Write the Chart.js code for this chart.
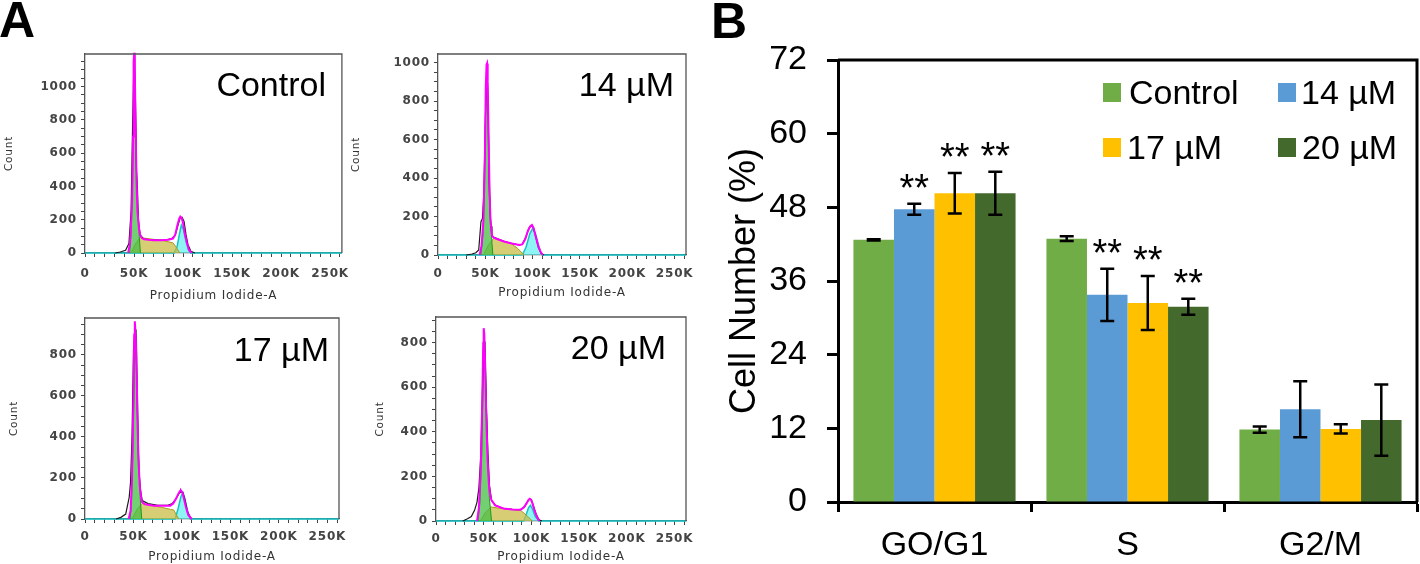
<!DOCTYPE html>
<html>
<head>
<meta charset="utf-8">
<script src="https://cdn.jsdelivr.net/npm/chart.js@4.4.1/dist/chart.umd.min.js"></script>
<style>
  html, body { margin:0; padding:0; background:#fff; }
  #wrap { position:relative; width:1420px; height:564px; overflow:hidden; background:#fff; }
  canvas { position:absolute; }
  .t { position:absolute; white-space:nowrap; line-height:1; font-family:"Liberation Sans", Arial, sans-serif; color:#000; }
  .sq { position:absolute; width:18px; height:19px; }
</style>
</head>
<body>
<div id="wrap">
  <canvas id="hTL" width="350" height="266" style="left:0px;top:40px"></canvas>
  <canvas id="hTR" width="350" height="266" style="left:350px;top:40px"></canvas>
  <canvas id="hBL" width="350" height="264" style="left:0px;top:300px"></canvas>
  <canvas id="hBR" width="350" height="264" style="left:350px;top:300px"></canvas>
  <canvas id="bars" width="730" height="564" style="left:690px;top:0px"></canvas>

  <div class="t" style="left:-1px;top:-5px;font-size:50px;font-weight:bold;">A</div>
  <div class="t" style="left:711px;top:-4px;font-size:50px;font-weight:bold;">B</div>

  <div class="t" id="labTL" style="right:1094px;top:67px;font-size:34px;"></div>
  <div class="t" id="labTR" style="right:746px;top:67px;font-size:34px;"></div>
  <div class="t" id="labBL" style="right:1091px;top:332px;font-size:34px;"></div>
  <div class="t" id="labBR" style="right:754px;top:330px;font-size:34px;"></div>

  <div id="legend"></div>
</div>
<script>
// ---------------- Panel B data ----------------
const categories = ['GO/G1', 'S', 'G2/M'];
const seriesNames = ['Control', '14 µM', '17 µM', '20 µM'];
const controlVals = [42.7, 42.9, 11.8];
const m14Vals = [47.7, 33.75, 15.1];
const m17Vals = [50.3, 32.4, 11.9];
const m20Vals = [50.3, 31.8, 13.35];
const controlErr = [0.1, 0.4, 0.5];
const m14Err = [0.9, 4.25, 4.55];
const m17Err = [3.3, 4.4, 0.75];
const m20Err = [3.5, 1.3, 5.8];
const controlSig = ['', '', ''];
const m14Sig = ['**', '**', ''];
const m17Sig = ['**', '**', ''];
const m20Sig = ['**', '**', ''];
const yTicksB = [0, 12, 24, 36, 48, 60, 72];

// ---------------- Panel A data (x in K units of Propidium Iodide-A, y = Count) ----------------
const xTickLabelsA = ['0', '50K', '100K', '150K', '200K', '250K'];
// Control
const ctrlFitX = [44, 46, 48, 49, 49.6, 50.2, 50.8, 51.5, 52.5, 53.5, 55, 56.2, 58, 60.3, 65, 70, 77.6, 85, 89.7, 92, 94, 96, 97.2, 98.5, 100, 102, 104, 106, 108.6];
const ctrlFitY = [0, 60, 300, 700, 1150, 1202, 1100, 800, 450, 250, 150, 110, 90, 82, 79, 77, 77, 80, 87, 110, 160, 205, 219, 212, 180, 110, 60, 20, 0];
const ctrlRawX = [31, 36, 41.4, 44.8, 47, 48.5, 49.5, 50.5, 51.5, 52.5, 53.5, 54.5, 56.2, 60, 70, 80, 88, 92, 95, 97, 99, 101, 103, 105, 108, 112];
const ctrlRawY = [0, 6, 16, 57, 250, 750, 1050, 1180, 900, 500, 380, 200, 108, 83, 78, 77, 85, 105, 170, 210, 215, 190, 110, 50, 10, 0];
const ctrlG1X = [45.5, 47, 48.5, 49.5, 50.5, 51.3, 52.2, 53.5, 55, 56.5];
const ctrlG1Y = [0, 120, 420, 850, 1110, 950, 560, 280, 130, 0];
const ctrlSX = [47, 52, 56.2, 62, 70, 80, 89.7, 93, 96.6];
const ctrlSY = [0, 60, 94, 88, 82, 74, 61, 35, 0];
const ctrlG2X = [0, 91, 94, 96.5, 98.3, 100.5, 103, 105.5, 107.6, 262];
const ctrlG2Y = [0, 0, 40, 120, 168, 140, 70, 20, 0, 0];
// 14 µM
const m14FitX = [44, 46, 48, 49.5, 50.5, 51.3, 51.8, 52.5, 53.5, 54.5, 55.5, 57, 59, 63, 69.6, 78, 85.7, 89, 92, 95, 97.5, 99.3, 101, 103, 106, 108.5, 110.7];
const m14FitY = [0, 50, 180, 500, 880, 990, 996, 900, 600, 320, 170, 100, 90, 82, 70, 60, 52, 55, 80, 125, 150, 156, 140, 100, 45, 15, 0];
const m14RawX = [30, 36, 40, 43, 45.4, 47, 48.5, 50, 51, 52, 53, 54, 55, 56, 57, 59, 65, 70, 78, 85.7, 89, 93, 96, 99, 101, 103, 106, 109, 112];
const m14RawY = [0, 5, 12, 26, 173, 190, 330, 700, 870, 950, 720, 380, 220, 150, 100, 92, 80, 70, 60, 52, 56, 95, 140, 152, 140, 100, 40, 8, 0];
const m14G1X = [45.4, 47.5, 49, 50.5, 52, 53, 54, 55.5, 57, 58];
const m14G1Y = [0, 100, 350, 800, 944, 800, 450, 200, 60, 0];
const m14SX = [48, 53, 59, 65, 70, 77, 84, 91];
const m14SY = [0, 50, 87, 80, 72, 61, 35, 0];
const m14G2X = [0, 89, 93, 97, 100, 103, 106, 108.5, 110.7, 262];
const m14G2Y = [0, 0, 40, 110, 138, 110, 55, 15, 0, 0];
// 17 µM
const m17FitX = [45, 47, 48.5, 50, 50.8, 51.4, 52.2, 53, 54, 55, 56.5, 58, 59, 62, 71, 80, 88, 91, 94, 96.5, 98, 99, 100.5, 102, 104, 106.5, 110];
const m17FitY = [0, 40, 200, 600, 900, 964, 900, 780, 520, 300, 160, 100, 81, 72, 65, 64, 65, 75, 100, 125, 137, 139, 130, 100, 60, 20, 0];
const m17RawX = [32, 37, 42, 45.6, 47, 48.5, 50, 51.5, 52.5, 53.5, 54.5, 55.5, 57, 59, 65, 75, 85, 90, 94, 97, 99, 101, 103, 106, 110];
const m17RawY = [0, 8, 24, 106, 180, 400, 820, 930, 880, 650, 420, 250, 150, 90, 75, 67, 66, 75, 100, 125, 132, 128, 95, 30, 0];
const m17G1X = [46.6, 48, 49.5, 51, 52.2, 53, 54, 55.5, 57, 58.5];
const m17G1Y = [0, 80, 350, 750, 900, 923, 650, 300, 100, 0];
const m17SX = [48.5, 54, 59, 65, 72, 80, 88, 91.5, 96.6];
const m17SY = [0, 50, 76, 70, 63, 56, 47, 44, 0];
const m17G2X = [0, 93, 96, 99, 101, 103, 105.5, 108.5, 262];
const m17G2Y = [0, 0, 50, 110, 129, 100, 45, 0, 0];
// 20 µM
const m20FitX = [43, 45, 47, 48.5, 49.5, 50, 50.6, 51.5, 52.5, 54, 55.5, 57, 58.2, 62, 70.7, 80, 88.6, 92, 95, 97, 98.2, 99.5, 101, 103, 105.5, 108];
const m20FitY = [0, 60, 250, 550, 800, 865, 840, 700, 500, 280, 160, 110, 93, 70, 56, 52, 51, 60, 80, 95, 100, 96, 80, 50, 20, 0];
const m20RawX = [28, 33, 37, 40.4, 43, 45, 47, 48.5, 50, 51, 52, 53, 54.5, 56, 58.2, 62, 70.7, 80, 88.6, 93, 96, 98.2, 100, 102, 105, 108, 111];
const m20RawY = [0, 10, 20, 48, 85, 150, 300, 550, 820, 800, 640, 480, 300, 160, 93, 72, 56, 52, 51, 65, 88, 100, 95, 70, 30, 5, 0];
const m20G1X = [44, 46, 48, 49.5, 50.5, 51.4, 52.5, 54, 56, 58.2];
const m20G1Y = [0, 80, 300, 620, 780, 805, 600, 300, 100, 0];
const m20SX = [46.5, 52, 58, 65, 72, 80, 88.6, 95, 101];
const m20SY = [0, 40, 63, 58, 55, 51, 48, 25, 0];
const m20G2X = [0, 92, 95, 97, 99, 101, 104, 108, 262];
const m20G2Y = [0, 0, 35, 60, 70, 55, 20, 0, 0];
const panelLabels = ['Control', '14 µM', '17 µM', '20 µM'];
const countMax = [1195, 1045, 980, 915];

// ---------------- styles ----------------
const FONT = '"Liberation Sans", Arial, sans-serif';
const barColors = ['#70AD47', '#5B9BD5', '#FFC000', '#44692C'];

const boxPlugin = {
  id: 'box',
  afterDraw(chart, args, opts) {
    const { left, top, right, bottom } = chart.chartArea;
    const ctx = chart.ctx;
    ctx.save();
    ctx.strokeStyle = opts.color || '#000';
    ctx.lineWidth = opts.width || 1;
    ctx.beginPath();
    ctx.moveTo(left, top);
    ctx.lineTo(right, top);
    ctx.lineTo(right, bottom);
    ctx.stroke();
    ctx.restore();
  }
};

const spacingPlugin = {
  id: 'spacing',
  beforeDraw(chart, args, opts) { chart.ctx.letterSpacing = opts.value || '0px'; }
};

function pts(xs, ys) { return xs.map((x, i) => ({ x: x, y: ys[i] })); }

function histChart(id, g, d) {
  const lbl = (v) => {
    if (v % 50 !== 0) return '';
    return xTickLabelsA[v / 50];
  };
  return new Chart(document.getElementById(id), {
    type: 'scatter',
    data: {
      datasets: [
        { data: pts(d.fitX, d.fitY), showLine: true, borderColor: '#ff00ff', borderWidth: 2, pointRadius: 0, fill: false, clip: 3 },
        { data: pts(d.rawX, d.rawY), showLine: true, borderColor: '#1a1a1a', borderWidth: 1.2, pointRadius: 0, fill: false, clip: 3 },
        { data: pts(d.g1X, d.g1Y), showLine: true, borderColor: '#1e9a1e', borderWidth: 1, backgroundColor: 'rgba(70,190,70,0.75)', fill: 'origin', pointRadius: 0, clip: 3 },
        { data: pts(d.sX, d.sY), showLine: true, borderColor: '#a89a20', borderWidth: 1, backgroundColor: 'rgba(200,186,64,0.72)', fill: 'origin', pointRadius: 0, clip: 3 },
        { data: pts(d.g2X, d.g2Y), showLine: true, borderColor: '#12c4c4', borderWidth: 1.5, backgroundColor: 'rgba(100,240,240,0.72)', fill: 'origin', pointRadius: 0, clip: 3 }
      ]
    },
    options: {
      responsive: false, animation: false, events: [],
      layout: { padding: { top: g.pt, right: g.pr, left: 0, bottom: 0 } },
      plugins: { legend: { display: false }, tooltip: { enabled: false }, box: { color: '#555', width: 1.3 }, spacing: { value: '0.8px' } },
      scales: {
        x: {
          type: 'linear', min: 0, max: 262,
          ticks: { stepSize: 10, autoSkip: false, maxRotation: 0, includeBounds: false, callback: lbl,
                   font: { family: '"DejaVu Sans", sans-serif', size: 12, weight: 'bold' }, color: '#444', padding: g.xtp },
          grid: { drawOnChartArea: false, tickLength: 4, color: '#444', tickWidth: 1 },
          border: { color: '#555', width: 1.3 },
          title: { display: true, text: 'Propidium Iodide-A', color: '#333',
                   font: { family: '"DejaVu Sans", sans-serif', size: 12 }, padding: { top: 0, bottom: g.ttp } },
          afterFit: (s) => { s.height = g.xh; }
        },
        y: {
          min: 0, max: d.yMax,
          ticks: { stepSize: 50, autoSkip: false, includeBounds: false, callback: (v) => (v % 200 === 0 ? String(v) : ''),
                   font: { family: '"DejaVu Sans", sans-serif', size: 12, weight: 'bold' }, color: '#444', padding: 4 },
          grid: { drawOnChartArea: false, tickLength: 4, color: '#444', tickWidth: 1 },
          border: { color: '#555', width: 1.3 },
          title: { display: true, text: 'Count', color: '#333',
                   font: { family: '"DejaVu Sans", sans-serif', size: 10.5 }, padding: { top: g.ctp, bottom: 0 } },
          afterFit: (s) => { s.width = g.yw; }
        }
      }
    },
    plugins: [spacingPlugin, boxPlugin]
  });
}

histChart('hTL', { pt: 14, pr: 8, xh: 53, yw: 85, xtp: 10, ttp: 3, ctp: 3 },
  { fitX: ctrlFitX, fitY: ctrlFitY, rawX: ctrlRawX, rawY: ctrlRawY, g1X: ctrlG1X, g1Y: ctrlG1Y, sX: ctrlSX, sY: ctrlSY, g2X: ctrlG2X, g2Y: ctrlG2Y, yMax: countMax[0] });
histChart('hTR', { pt: 14, pr: 14, xh: 51, yw: 88, xtp: 8, ttp: 6, ctp: 0 },
  { fitX: m14FitX, fitY: m14FitY, rawX: m14RawX, rawY: m14RawY, g1X: m14G1X, g1Y: m14G1Y, sX: m14SX, sY: m14SY, g2X: m14G2X, g2Y: m14G2Y, yMax: countMax[1] });
histChart('hBL', { pt: 18, pr: 11, xh: 45, yw: 85, xtp: 7, ttp: 0, ctp: 8 },
  { fitX: m17FitX, fitY: m17FitY, rawX: m17RawX, rawY: m17RawY, g1X: m17G1X, g1Y: m17G1Y, sX: m17SX, sY: m17SY, g2X: m17G2X, g2Y: m17G2Y, yMax: countMax[2] });
histChart('hBR', { pt: 17, pr: 14, xh: 43, yw: 86, xtp: 7, ttp: 0, ctp: 24 },
  { fitX: m20FitX, fitY: m20FitY, rawX: m20RawX, rawY: m20RawY, g1X: m20G1X, g1Y: m20G1Y, sX: m20SX, sY: m20SY, g2X: m20G2X, g2Y: m20G2Y, yMax: countMax[3] });

['labTL', 'labTR', 'labBL', 'labBR'].forEach((id, i) => { document.getElementById(id).textContent = panelLabels[i]; });

// ---------------- Panel B ----------------
const errPlugin = {
  id: 'errBars',
  afterDatasetsDraw(chart) {
    const ctx = chart.ctx, ys = chart.scales.y;
    chart.data.datasets.forEach((ds, i) => {
      const meta = chart.getDatasetMeta(i);
      meta.data.forEach((bar, j) => {
        const v = ds.data[j], e = ds.errors[j];
        const yt = ys.getPixelForValue(v + e), yb = ys.getPixelForValue(v - e);
        ctx.save();
        ctx.strokeStyle = '#000';
        ctx.lineWidth = 2.5;
        ctx.beginPath();
        ctx.moveTo(bar.x, yt); ctx.lineTo(bar.x, yb);
        ctx.moveTo(bar.x - 7, yt); ctx.lineTo(bar.x + 7, yt);
        ctx.moveTo(bar.x - 7, yb); ctx.lineTo(bar.x + 7, yb);
        ctx.stroke();
        if (ds.sig[j]) {
          ctx.fillStyle = '#000';
          ctx.font = '38px ' + FONT;
          ctx.textAlign = 'center';
          ctx.textBaseline = 'alphabetic';
          ctx.fillText(ds.sig[j], bar.x, yt - 3);
        }
        ctx.restore();
      });
    });
  }
};

const barVals = [controlVals, m14Vals, m17Vals, m20Vals];
const barErrs = [controlErr, m14Err, m17Err, m20Err];
const barSigs = [controlSig, m14Sig, m17Sig, m20Sig];

new Chart(document.getElementById('bars'), {
  type: 'bar',
  data: {
    labels: categories,
    datasets: seriesNames.map((n, i) => ({
      label: n, data: barVals[i], errors: barErrs[i], sig: barSigs[i],
      backgroundColor: barColors[i], borderWidth: 0,
      categoryPercentage: 0.84, barPercentage: 1.0
    }))
  },
  options: {
    responsive: false, animation: false, events: [],
    layout: { padding: { top: 60, right: 3, left: 0, bottom: 0 } },
    plugins: { legend: { display: false }, tooltip: { enabled: false }, box: { color: '#000', width: 3 } },
    scales: {
      x: {
        grid: { offset: true, drawOnChartArea: false, tickLength: 10, tickWidth: 3, color: '#000' },
        border: { color: '#000', width: 3 },
        ticks: { font: { family: FONT, size: 34 }, color: '#000', padding: 13, maxRotation: 0 },
        afterFit: (s) => { s.height = 62; }
      },
      y: {
        min: yTicksB[0], max: yTicksB[yTicksB.length - 1],
        afterBuildTicks: (s) => { s.ticks = yTicksB.map(v => ({ value: v })); },
        ticks: { font: { family: FONT, size: 34 }, color: '#000', padding: 20 },
        grid: { drawOnChartArea: false, tickLength: 11, tickWidth: 3, color: '#000' },
        border: { color: '#000', width: 3 },
        title: { display: true, text: 'Cell Number (%)', color: '#000', font: { family: FONT, size: 36 }, padding: { top: 33, bottom: 0 } },
        afterFit: (s) => { s.width = 148; }
      }
    }
  },
  plugins: [errPlugin, boxPlugin]
});

// legend (HTML)
const legendPos = [[1103, 83], [1277.6, 83], [1103, 138], [1277.6, 138]];
const legendText = [[1129, 75], [1301, 75], [1127, 129.5], [1302, 129.5]];
const lg = document.getElementById('legend');
seriesNames.forEach((n, i) => {
  const sq = document.createElement('div');
  sq.className = 'sq';
  sq.style.left = legendPos[i][0] + 'px';
  sq.style.top = legendPos[i][1] + 'px';
  sq.style.background = barColors[i];
  lg.appendChild(sq);
  const t = document.createElement('div');
  t.className = 't';
  t.style.left = legendText[i][0] + 'px';
  t.style.top = legendText[i][1] + 'px';
  t.style.fontSize = '34px';
  t.textContent = n;
  lg.appendChild(t);
});
</script>
</body>
</html>
